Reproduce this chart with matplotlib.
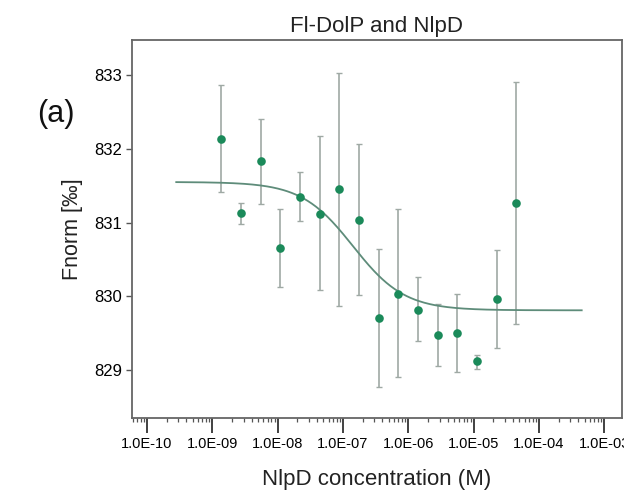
import numpy as np
import matplotlib
matplotlib.use("Agg")
import matplotlib.pyplot as plt
from matplotlib.ticker import LogLocator, FixedLocator, NullFormatter

plt.rcParams['font.family'] = ['Liberation Sans', 'DejaVu Sans']

# Data
conc_max = 4.5e-5
n_points = 16
concentrations = [conc_max / 2 ** k for k in range(n_points - 1, -1, -1)]
fnorm = [832.13, 831.13, 831.83, 830.66, 831.35, 831.12, 831.45, 831.04,
         829.70, 830.03, 829.82, 829.47, 829.50, 829.12, 829.96, 831.26]
err_upper = [832.87, 831.27, 832.40, 831.19, 831.69, 832.18, 833.03, 832.07,
             830.64, 831.19, 830.26, 829.90, 830.03, 829.20, 830.63, 832.90]
err_lower = [831.41, 830.98, 831.25, 830.13, 831.02, 830.08, 829.87, 830.02,
             828.77, 828.90, 829.40, 829.06, 828.97, 829.02, 829.30, 829.63]

# Fit parameters (dose-response fit)
fit_top = 831.55
fit_bottom = 829.81
fit_ec50 = 1.42e-7
fit_hill = 1.1
fit_range = (2.8e-10, 4.5e-4)

y_ticks = [829, 830, 831, 832, 833]
x_ticks = [1e-10, 1e-9, 1e-8, 1e-7, 1e-6, 1e-5, 1e-4, 1e-3]
x_ticklabels = ['1.0E-10', '1.0E-09', '1.0E-08', '1.0E-07',
                '1.0E-06', '1.0E-05', '1.0E-04', '1.0E-03']

fig = plt.figure(figsize=(6.24, 4.91), dpi=100)
ax = fig.add_axes([132 / 624, 73 / 491, (622 - 132) / 624, (418 - 40) / 491])

x = np.array(concentrations)
y = np.array(fnorm)
yerr = np.vstack([y - np.array(err_lower), np.array(err_upper) - y])

ax.errorbar(x, y, yerr=yerr, fmt='none', ecolor='#9fa9a4', elinewidth=1.2,
            capsize=2.3, capthick=1.0, zorder=2)
ax.plot(x, y, 'o', color='#1b8a5a', markersize=6.2, markeredgewidth=0, zorder=4)

xf = np.logspace(np.log10(fit_range[0]), np.log10(fit_range[1]), 300)
yf = fit_bottom + (fit_top - fit_bottom) / (1 + (xf / fit_ec50) ** fit_hill)
ax.plot(xf, yf, color='#5e8c7a', linewidth=1.3, zorder=3)

ax.set_xscale('log')
ax.set_xlim(10 ** -10.23, 10 ** -2.73)
ax.set_ylim(828.35, 833.475)

ax.xaxis.set_major_locator(FixedLocator(x_ticks))
ax.set_xticklabels(x_ticklabels)
ax.xaxis.set_minor_locator(LogLocator(base=10, subs=np.arange(2, 10), numticks=20))
ax.xaxis.set_minor_formatter(NullFormatter())
ax.set_yticks(y_ticks)

for s in ax.spines.values():
    s.set_color('#666666')
    s.set_linewidth(1.3)

ax.tick_params(axis='x', which='major', direction='out', length=11, width=1.3,
               color='#333333', labelsize=10.5, pad=3)
ax.tick_params(axis='x', which='minor', direction='out', length=3, width=0.9,
               color='#555555')
ax.tick_params(axis='y', which='major', direction='out', length=4, width=1.0,
               color='#555555', labelsize=12, pad=3)
ax.tick_params(top=False, right=False)

ax.set_title('Fl-DolP and NlpD', fontsize=16, color='#222222', pad=6)
ax.set_xlabel('NlpD concentration (M)', fontsize=16, color='#222222', labelpad=13)
ax.set_ylabel('Fnorm [‰]', fontsize=15.5, color='#222222', labelpad=8)

fig.text(56 / 624, 1 - 114 / 491, '(a)', fontsize=22, ha='center', va='center',
         color='#111111')

fig.savefig('out.png', dpi=100)
